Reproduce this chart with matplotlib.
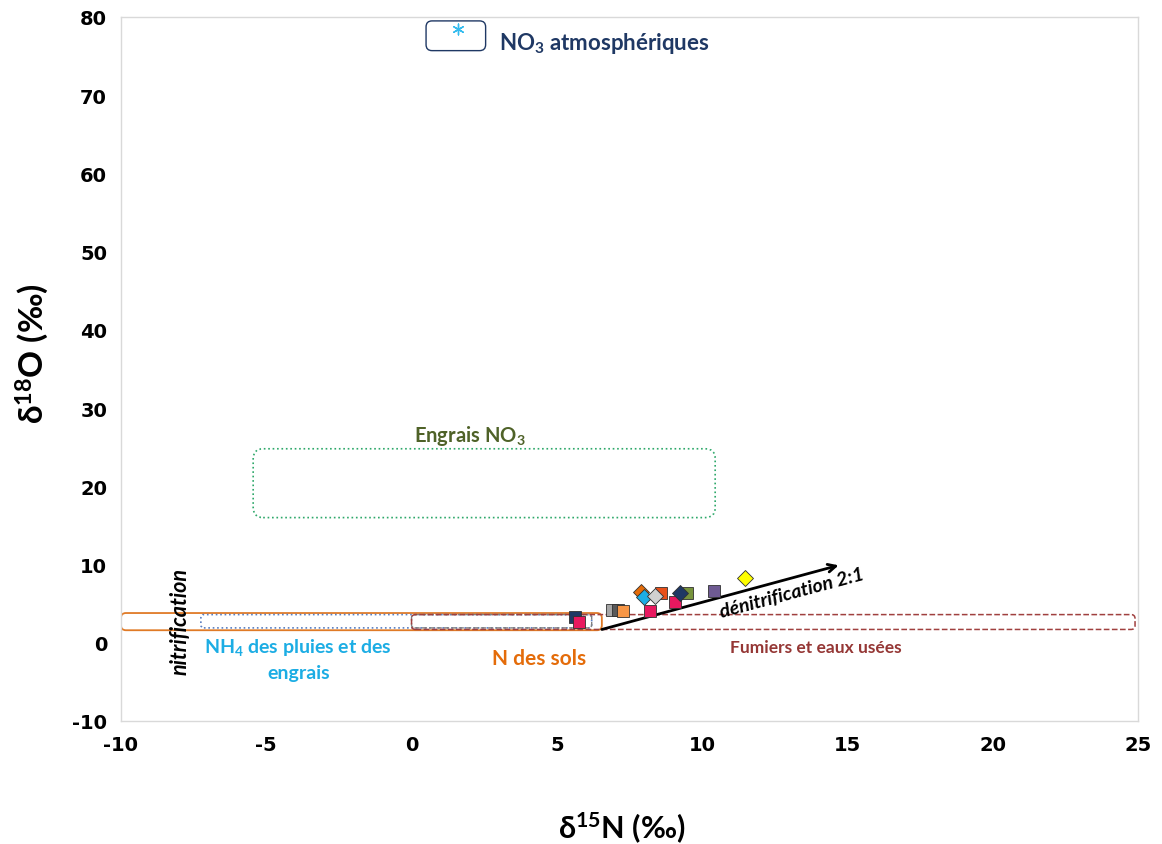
import matplotlib
matplotlib.use('Agg')
import matplotlib.pyplot as plt
from matplotlib.patches import FancyBboxPatch

plt.rcParams['axes.unicode_minus'] = False
plt.rcParams['mathtext.fontset'] = 'custom'
plt.rcParams['mathtext.rm'] = 'Lato:bold'
plt.rcParams['mathtext.bf'] = 'Lato:bold'
plt.rcParams['mathtext.default'] = 'bf'

# samples: d15N, d18O, marker, fill colour
d15n = [5.62, 5.76, 6.89, 7.10, 7.27, 8.20, 7.90, 8.00, 8.60, 8.37, 9.06, 9.47, 9.23, 10.40, 11.47]
d18o = [3.3, 2.7, 4.2, 4.2, 4.0, 4.0, 6.5, 5.9, 6.4, 6.0, 5.2, 6.4, 6.3, 6.6, 8.3]
markers = ['s', 's', 's', 's', 's', 's', 'D', 'D', 's', 'D', 's', 's', 'D', 's', 'D']
colors = ['#1F3864', '#E8185F', '#A6A6A6', '#595959', '#F79646', '#E8185F',
          '#E46C0A', '#1CADE4', '#E8501A', '#D0D0D0', '#E8185F', '#77933C',
          '#1F3864', '#6E5A92', '#FFFF00']

# atmospheric NO3 reference point
atm_x, atm_y = [1.6], [78.5]

# source fields (x0, x1, y0, y1)
box_names = ['atm', 'engrais', 'sols', 'nh4', 'sols2', 'fumiers']
box_x0 = [0.5, -5.45, -10.0, -7.25, 0.0, 0.0]
box_x1 = [2.55, 10.45, 6.55, 6.2, 6.2, 24.9]
box_y0 = [75.7, 16.0, 1.6, 1.9, 1.9, 1.7]
box_y1 = [79.5, 24.8, 3.8, 3.6, 3.6, 3.6]
box_col = ['#1F3864', '#2EA86A', '#E07A26', '#5B7FC0', '#7F7F7F', '#A0403F']
box_ls = ['-', ':', '-', ':', '--', '--']
box_lw = [1.0, 1.2, 1.3, 1.2, 1.0, 1.1]
box_r = [6, 10, 5, 3, 3, 4]  # corner radius, px

# denitrification arrow
den_x = [6.55, 14.7]
den_y = [1.7, 9.9]

fig = plt.figure(figsize=(11.62, 8.45), dpi=100)
ax = fig.add_axes([0.1041, 0.1456, 0.8752, 0.8331])
ax.set_xlim(-10, 25)
ax.set_ylim(-10, 80)

# px per data unit -> aspect for round corners
px_x = 0.8752 * 1162 / 35
px_y = 0.8331 * 845 / 90
for x0, x1, y0, y1, c, ls, lw, r in zip(box_x0, box_x1, box_y0, box_y1, box_col, box_ls, box_lw, box_r):
    p = FancyBboxPatch((x0, y0), x1 - x0, y1 - y0,
                       boxstyle=f'round,pad=0,rounding_size={r / px_x}',
                       mutation_aspect=px_x / px_y,
                       fc='none', ec=c, ls=ls, lw=lw, zorder=2)
    ax.add_patch(p)

ax.scatter(atm_x, atm_y, marker=(6, 2, 0), s=60, c='#33BBEE', lw=1.0, zorder=4)

for x, y, m, c in zip(d15n, d18o, markers, colors):
    ax.plot(x, y, marker=m, ms=9 if m == 's' else 8.5, mfc=c, mec='#303030',
            mew=0.6, ls='none', zorder=5)

ax.annotate('', xy=(den_x[1], den_y[1]), xytext=(den_x[0], den_y[0]),
            arrowprops=dict(arrowstyle='->', color='black', lw=2.0,
                            mutation_scale=14, shrinkA=0, shrinkB=0), zorder=3)

lab = dict(family=['Lato', 'DejaVu Sans'], fontweight='bold')
ax.text(3.0, 76.7, 'NO$_3$ atmosphériques', color='#1F3864', fontsize=16, va='center', **lab)
ax.text(2.0, 26.6, 'Engrais NO$_3$', color='#4F6228', fontsize=14.5, ha='center', va='center', **lab)
ax.text(-3.9, -2.0, 'NH$_4$ des pluies et des\nengrais', color='#1CADE4', fontsize=14,
        ha='center', va='center', linespacing=1.5, **lab)
ax.text(4.4, -2.0, 'N des sols', color='#E46C0A', fontsize=15, ha='center', va='center', **lab)
ax.text(13.9, -0.5, 'Fumiers et eaux usées', color='#953735', fontsize=12.5, ha='center', va='center', **lab)
ax.text(13.1, 6.4, 'dénitrification 2:1', color='black', fontsize=14, style='italic',
        rotation=15, ha='center', va='center', rotation_mode='anchor', **lab)
ax.text(-7.97, 2.9, 'nitrification', color='black', fontsize=15.5, style='italic',
        rotation=90, ha='center', va='center', **lab)

ax.set_xticks(range(-10, 26, 5))
ax.set_yticks(range(-10, 81, 10))
ax.tick_params(length=0, labelsize=14, pad=10)
for t in ax.get_xticklabels() + ax.get_yticklabels():
    t.set_fontweight('bold')
for s in ax.spines.values():
    s.set_color('#D9D9D9')
    s.set_linewidth(1.0)

ax.set_xlabel('δ$^{15}$N (‰)', fontsize=22, va='center', **lab)
ax.set_ylabel('δ$^{18}$O (‰)', fontsize=24, va='center', **lab)
ax.xaxis.set_label_coords(0.492, -0.151)
ax.yaxis.set_label_coords(-0.0875, 0.523)

fig.savefig('out.png', dpi=100)
